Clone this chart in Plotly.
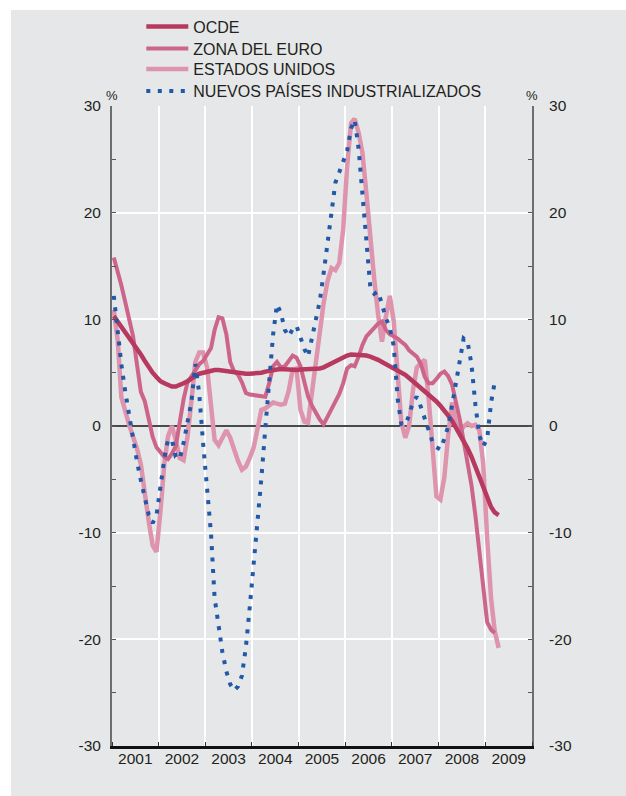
import pandas as pd
import plotly.graph_objects as go

# Monthly year-on-year growth, %, January 2001 onwards
ocde = [
    10.3, 9.8, 9.3, 8.8, 8.3, 7.8, 7.2, 6.7, 6.1, 5.5, 5.0, 4.6,
    4.2, 4.0, 3.8, 3.7, 3.7, 3.8, 4.0, 4.2, 4.5, 4.7, 4.9, 5.0,
    5.1, 5.2, 5.25, 5.25, 5.2, 5.1, 5.0, 4.95, 4.9, 4.9, 4.9, 4.9,
    4.9, 4.95, 5.0, 5.1, 5.2, 5.25, 5.3, 5.35, 5.3, 5.3, 5.25, 5.25,
    5.3, 5.3, 5.3, 5.3, 5.3, 5.4, 5.5, 5.7, 5.9, 6.1, 6.3, 6.5,
    6.6, 6.7, 6.7, 6.7, 6.7, 6.6, 6.5, 6.4, 6.2, 6.0, 5.8, 5.6,
    5.4, 5.2, 5.0, 4.8, 4.5, 4.2, 3.9, 3.6, 3.3, 3.0, 2.7, 2.3,
    1.9, 1.5, 1.0, 0.5, -0.1, -0.7, -1.4, -2.1, -2.9, -3.8, -4.8, -5.8,
    -6.8, -7.6, -8.1, -8.35,
]

zona_euro = [
    15.8, 14.5, 13.2, 11.6, 10.0, 8.4, 5.8, 3.2, 2.3, 0.6, -1.0, -2.0,
    -2.4, -2.9, -3.1, -2.6, -1.9, 0.3, 2.5, 4.1, 4.6, 5.2, 5.8, 6.1,
    6.7, 7.3, 9.0, 10.2, 10.1, 8.6, 6.0, 5.1, 4.8, 4.1, 3.1, 2.95,
    2.9, 2.85, 2.8, 2.75, 4.0, 5.6, 6.0, 5.5, 5.6, 6.1, 6.6, 6.4,
    5.6, 4.1, 2.8, 1.9, 1.2, 0.6, 0.15, 0.9, 1.7, 2.4, 3.0, 4.0,
    5.4, 5.7, 5.6, 6.5, 7.6, 8.4, 8.8, 9.2, 9.6, 9.8, 9.0, 8.6,
    8.4, 8.2, 7.9, 7.6, 7.1, 6.8, 6.5, 5.8, 4.6, 4.0, 4.0, 4.4,
    4.9, 5.1, 4.7, 3.9, 2.3, 0.6, -1.4, -3.5, -5.6, -8.4, -11.8, -15.5,
    -18.4, -19.1, -19.4,
]

estados_unidos = [
    10.9, 8.0, 2.7, 1.2, 0.1, -1.0, -2.1, -3.6, -6.6, -8.9, -11.2, -11.8,
    -8.0, -3.5, -1.0, 0.0, -1.3, -3.0, -3.2, -1.0, 2.4, 6.0, 6.9, 6.9,
    5.5, 2.0, -1.3, -1.8, -1.0, -0.4, -1.1, -2.3, -3.3, -4.1, -3.8, -3.0,
    -2.0, -0.2, 1.5, 1.65, 1.9, 2.2, 2.1, 2.0, 2.1, 3.3, 5.3, 5.4,
    1.5, 0.4, 0.3, 3.3, 6.0, 8.6, 11.5, 13.6, 14.8, 14.6, 15.3, 18.4,
    24.3, 28.4, 28.8, 27.5, 25.6, 21.8, 17.3, 13.8, 10.4, 7.9, 10.3, 12.2,
    9.8, 4.0, 0.4, -1.1, 0.0, 3.4, 5.5, 5.9, 6.2, 2.6, -1.6, -6.6,
    -6.9, -4.8, -1.0, 2.2, 0.3, -0.5, -0.05, 0.25, 0.0, 0.1, -0.4, -3.5,
    -10.5, -16.2, -19.2, -20.8,
]

nuevos_paises = [
    12.2, 8.8, 5.8, 3.2, 1.0, -1.2, -3.3, -5.1, -6.9, -8.3, -9.1, -8.4,
    -5.7, -3.0, -1.3, -1.3, -2.9, -3.1, -1.6, 0.2, 2.3, 5.8, 3.0, -1.6,
    -5.9, -10.1, -16.1, -19.0, -21.2, -23.0, -24.2, -24.8, -24.4, -23.4, -20.7, -17.0,
    -13.0, -9.1, -4.9, -0.2, 4.4, 8.6, 11.4, 10.6, 9.0, 8.4, 9.1, 9.4,
    8.3, 7.2, 6.5, 8.2, 10.1, 11.7, 14.3, 17.1, 19.7, 22.8, 23.8, 24.7,
    25.8, 27.9, 28.7, 26.0, 22.0, 17.5, 13.1, 12.4, 12.6, 11.4, 10.1, 9.2,
    7.5, 2.5, 0.2, 0.1, 1.0, 2.3, 2.75, 1.8, 0.6, -0.5, -1.5, -2.0,
    -2.2, -1.2, -0.1, 1.9, 4.1, 6.5, 8.2, 7.9, 5.7, 2.0, -0.9, -1.9,
    -1.2, 2.2, 4.1,
]

years = list(range(2001, 2010))
year_labels = [str(y) for y in years]
y_ticks = [-30, -20, -10, 0, 10, 20, 30]
y_tick_labels = ["-30", "-20", "-10", "0", "10", "20", "30"]

series_names = ["OCDE", "ZONA DEL EURO", "ESTADOS UNIDOS", "NUEVOS PAÍSES INDUSTRIALIZADOS"]


def monthly_dates(n):
    # mid-month positions starting in January 2001
    return pd.date_range("2001-01-01", periods=n, freq="MS") + pd.Timedelta(days=14)


# layout geometry (pixels)
W, H = 626, 796
ML, MR, MT, MB = 112, 94, 106, 50
PW, PH = W - ML - MR, H - MT - MB


def px_x(p):
    return (p - ML) / PW


def px_y(p):
    return (H - MB - p) / PH


BG = "#e6e7e8"
TXT = "#231f20"
FONT = "Liberation Sans, Arial, Helvetica, sans-serif"

styles = {
    "OCDE": dict(color="#b8395f", width=4.5),
    "ZONA DEL EURO": dict(color="#cc6589", width=4),
    "ESTADOS UNIDOS": dict(color="#dd94ac", width=4.5),
    "NUEVOS PAÍSES INDUSTRIALIZADOS": dict(color="#2158a8", width=4, dash="4px,7.5px"),
}
values = {
    "OCDE": ocde,
    "ZONA DEL EURO": zona_euro,
    "ESTADOS UNIDOS": estados_unidos,
    "NUEVOS PAÍSES INDUSTRIALIZADOS": nuevos_paises,
}
legend_ids = {name: ("legend" if k == 0 else f"legend{k + 1}") for k, name in enumerate(series_names)}
legend_rows_px = [26.5, 48.5, 69.0, 91.0]

fig = go.Figure()
# drawing order: US underneath, then euro area, OECD, and the dotted NIC series on top
for name in ["ESTADOS UNIDOS", "ZONA DEL EURO", "OCDE", "NUEVOS PAÍSES INDUSTRIALIZADOS"]:
    vals = values[name]
    fig.add_trace(go.Scatter(
        x=monthly_dates(len(vals)), y=vals, mode="lines", name=name,
        line=styles[name], legend=legend_ids[name], hoverinfo="x+y+name",
    ))

# right-hand axis carrier
fig.add_trace(go.Scatter(x=[], y=[], yaxis="y2", showlegend=False, hoverinfo="skip"))

x_start, x_end = "2001-01-01", "2010-01-01"

legend_layout = {}
for k, name in enumerate(series_names):
    legend_layout[legend_ids[name]] = dict(
        x=px_x(141.3), y=px_y(legend_rows_px[k]), xanchor="left", yanchor="middle",
        bgcolor="rgba(0,0,0,0)", borderwidth=0, itemwidth=42,
        font=dict(family=FONT, size=16, color=TXT),
    )

fig.update_layout(
    width=W, height=H,
    margin=dict(l=ML, r=MR, t=MT, b=MB, pad=0, autoexpand=False),
    paper_bgcolor=BG, plot_bgcolor=BG,
    font=dict(family=FONT, color=TXT),
    xaxis=dict(
        type="date", range=[x_start, x_end],
        tickmode="array", tickvals=[f"{y}-07-02" for y in years], ticktext=year_labels,
        ticks="", showgrid=False, zeroline=False,
        showline=True, linecolor="#111111", linewidth=2.5,
        tickfont=dict(family=FONT, size=15.5, color=TXT), ticklabelstandoff=-3,
        minor=dict(tickmode="array", tickvals=[f"{y}-01-01" for y in range(2001, 2011)],
                   ticks="inside", ticklen=4, tickwidth=1.2, tickcolor="#333333",
                   showgrid=True, gridcolor="#ffffff", gridwidth=1.5),
        fixedrange=True,
    ),
    yaxis=dict(
        range=[-30, 30], tickmode="array", tickvals=y_ticks, ticktext=y_tick_labels,
        ticks="inside", ticklen=4, tickwidth=1.2, tickcolor="#555555",
        showgrid=True, gridcolor="#ffffff", gridwidth=1.5,
        zeroline=True, zerolinecolor="#4a4a4a", zerolinewidth=1.5,
        showline=True, linecolor="#6d6e71", linewidth=2,
        tickfont=dict(family=FONT, size=15.5, color=TXT), ticklabelstandoff=6,
        minor=dict(dtick=5, tick0=0, ticks="inside", ticklen=4, tickwidth=1.2,
                   tickcolor="#555555", showgrid=False),
        fixedrange=True,
    ),
    yaxis2=dict(
        overlaying="y", side="right", anchor="x",
        range=[-30, 30], tickmode="array", tickvals=y_ticks, ticktext=y_tick_labels,
        ticks="inside", ticklen=4, tickwidth=1.2, tickcolor="#555555",
        showgrid=False, zeroline=False,
        showline=True, linecolor="#6d6e71", linewidth=2,
        tickfont=dict(family=FONT, size=15.5, color=TXT), ticklabelstandoff=12,
        minor=dict(dtick=5, tick0=0, ticks="inside", ticklen=4, tickwidth=1.2,
                   tickcolor="#555555", showgrid=False),
        fixedrange=True,
    ),
    showlegend=True,
    **legend_layout,
    annotations=[
        dict(text="%", xref="paper", yref="paper", x=0, y=px_y(95), showarrow=False,
             xanchor="center", yanchor="middle", font=dict(family=FONT, size=13, color=TXT)),
        dict(text="%", xref="paper", yref="paper", x=1, y=px_y(95), showarrow=False,
             xanchor="center", yanchor="middle", font=dict(family=FONT, size=13, color=TXT)),
    ],
    shapes=[
        # white frame strips along the left and top edges of the page
        dict(type="rect", xref="paper", yref="paper", x0=px_x(0), x1=px_x(11),
             y0=px_y(H), y1=px_y(0), fillcolor="#ffffff", line=dict(width=0), layer="below"),
        dict(type="rect", xref="paper", yref="paper", x0=px_x(0), x1=px_x(W),
             y0=px_y(10), y1=px_y(0), fillcolor="#ffffff", line=dict(width=0), layer="below"),
    ],
)

fig.write_html("out.html", config={"displayModeBar": False})
